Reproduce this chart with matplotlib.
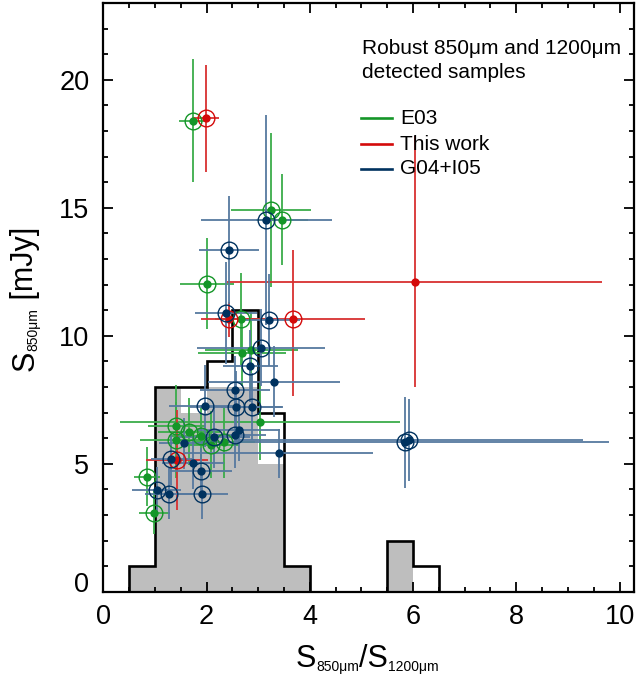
import numpy as np
import matplotlib
matplotlib.use('Agg')
import matplotlib.pyplot as plt
from matplotlib.lines import Line2D
from matplotlib.transforms import ScaledTranslation

plt.rcParams['font.family'] = ['Liberation Sans', 'DejaVu Sans']

# ── histogram of S850/S1200 ratio ──
bin_edges = [0.5, 1.0, 1.5, 2.0, 2.5, 3.0, 3.5, 4.0, 4.5, 5.0, 5.5, 6.0, 6.5]
counts_all = [1, 8, 8, 9, 11, 7, 1, 0, 0, 0, 2, 1]
counts_robust = [1, 8, 7, 8, 8, 5, 1, 0, 0, 0, 2, 0]

# ── E03 ──
e03_x = [1.74, 3.25, 3.46, 2.01, 2.66, 2.68, 2.87, 3.04, 1.41, 1.66, 1.41, 1.90, 2.08, 2.34, 0.85, 0.99]
e03_y = [18.4, 14.92, 14.53, 12.04, 10.66, 9.34, 9.44, 6.65, 6.47, 6.26, 5.93, 6.08, 5.75, 5.84, 4.49, 3.09]
e03_xerr = [0.27, 0.78, 0.5, 0.53, 0.5, 0.85, 0.9, 2.71, 0.55, 0.6, 0.7, 0.6, 0.55, 0.6, 0.25, 0.3]
e03_yerr = [2.4, 3.0, 1.78, 1.77, 1.8, 1.3, 1.5, 1.5, 1.6, 1.3, 1.5, 1.2, 1.3, 1.4, 1.15, 0.85]
e03_robust = [1, 1, 1, 1, 1, 0, 0, 0, 1, 1, 1, 1, 1, 1, 1, 1]

# ── This work ──
tw_x = [1.99, 2.43, 3.68, 6.03, 1.43]
tw_y = [18.5, 10.64, 10.64, 12.1, 5.16]
tw_xerr = [0.25, 0.53, 1.38, 3.63, 0.6]
tw_yerr_lo = [2.1, 0.7, 3.0, 4.1, 1.95]
tw_yerr_hi = [2.1, 0.7, 2.7, 5.7, 1.95]
tw_robust = [1, 1, 1, 0, 1]

# ── G04+I05 ──
g04_x = [3.16, 2.44, 2.37, 3.21, 3.06, 2.85, 3.30, 2.55, 1.97, 2.57, 2.88, 2.63,
         2.55, 2.15, 1.57, 3.40, 1.32, 1.74, 1.90, 1.03, 1.28, 1.92, 5.84, 5.93]
g04_y = [14.53, 13.36, 10.9, 10.61, 9.53, 8.82, 8.21, 7.9, 7.25, 7.21, 7.23, 6.32,
         6.12, 6.03, 5.80, 5.41, 5.17, 5.02, 4.72, 3.97, 3.83, 3.83, 5.84, 5.93]
g04_xerr = [1.26, 0.58, 0.6, 0.6, 1.24, 0.53, 1.28, 0.68, 0.7, 0.89, 0.6, 0.8,
            0.6, 0.7, 0.5, 1.82, 0.4, 0.6, 0.6, 0.48, 0.47, 0.5, 3.95, 3.37]
g04_yerr = [4.1, 2.1, 2.0, 1.8, 1.5, 1.4, 1.4, 1.3, 1.6, 1.4, 1.3, 1.2,
            1.3, 1.2, 1.0, 0.95, 1.0, 1.0, 0.9, 0.9, 1.0, 1.0, 1.78, 1.6]
g04_robust = [1, 1, 1, 1, 1, 1, 0, 1, 1, 1, 1, 0, 1, 1, 0, 0, 1, 0, 1, 1, 1, 1, 1, 1]

verde = '#149628'
vermelho = '#d40a0a'
azul = '#00325f'

fig = plt.figure(figsize=(6.38, 6.77), dpi=100)
ax = fig.add_axes([0.162, 0.126, 0.8317, 0.8694])

ax.stairs(counts_robust, bin_edges, fill=True, color='#bebebe', zorder=1)
ax.stairs(counts_all, bin_edges, color='black', lw=1.9, zorder=1.5)

series = [
    (e03_x, e03_y, e03_xerr, e03_yerr, e03_robust, verde, '#3aac4a'),
    (tw_x, tw_y, tw_xerr, [tw_yerr_lo, tw_yerr_hi], tw_robust, vermelho, '#d83030'),
    (g04_x, g04_y, g04_xerr, g04_yerr, g04_robust, azul, '#56799f'),
]
for x, y, xe, ye, rob, cor, cor_err in series:
    ax.errorbar(x, y, xerr=xe, yerr=ye, fmt='none', ecolor=cor_err,
                elinewidth=1.3, capsize=0, zorder=2)
    ax.plot(x, y, 'o', color=cor, ms=6, mec='none', zorder=4)
    xr = [a for a, r in zip(x, rob) if r]
    yr = [b for b, r in zip(y, rob) if r]
    ax.plot(xr, yr, 'o', mfc='none', mec=cor, ms=12, mew=1.0, zorder=4)

ax.set_xlim(0, 10.28)
ax.set_ylim(0, 23)
ax.set_xticks([0, 2, 4, 6, 8, 10])
ax.set_xticks(np.arange(0, 10.3, 0.5), minor=True)
ax.set_yticks([0, 5, 10, 15, 20])
ax.set_yticks(np.arange(0, 23, 1), minor=True)
ax.tick_params(which='both', direction='in', top=True, right=True, width=1.3)
ax.tick_params(which='major', length=7.5, labelsize=19.5)
ax.tick_params(which='minor', length=3.5)
ax.tick_params(axis='x', pad=9)
ax.tick_params(axis='y', pad=10)
for s in ax.spines.values():
    s.set_linewidth(1.6)

# o "0" do eixo y fica um pouco acima da linha, como no original
lbl0 = ax.yaxis.get_major_ticks()[0].label1
lbl0.set_transform(lbl0.get_transform() + ScaledTranslation(0, 0.1, fig.dpi_scale_trans))

# rótulos dos eixos: S grande com subscritos pequenos (estilo IDL)
renderer = fig.canvas.get_renderer()


def rotulo(partes, x0, y0, vertical=False):
    pos = 0.0
    for txt, tam, desl in partes:
        if vertical:
            t = fig.text(x0 + desl, y0 + pos, txt, fontsize=tam, rotation=90,
                         rotation_mode='anchor', ha='left', va='baseline', transform=None)
            pos += t.get_window_extent(renderer).height
        else:
            t = fig.text(x0 + pos, y0 - desl, txt, fontsize=tam,
                         ha='left', va='baseline', transform=None)
            pos += t.get_window_extent(renderer).width


rotulo([('S', 22, 0), ('850μm', 10, 4), ('/S', 22, 0), ('1200μm', 10, 4)], 296, 677 - 666.7)
rotulo([('S', 22, 0), ('850μm', 10, 4), (' [mJy]', 22, 0)], 33.5, 677 - 371, vertical=True)

# legenda manual
fig.text(362 / 638, 1 - 48 / 677, 'Robust 850μm and 1200μm', fontsize=15, va='center', ha='left')
fig.text(362 / 638, 1 - 72 / 677, 'detected samples', fontsize=15, va='center', ha='left')
for nome, cor, py in [('E03', verde, 118), ('This work', vermelho, 144), ('G04+I05', azul, 169)]:
    fig.add_artist(Line2D([361 / 638, 392 / 638], [1 - py / 677] * 2, color=cor, lw=1.9))
    fig.text(400 / 638, 1 - py / 677, nome, fontsize=15, va='center', ha='left')

plt.savefig('out.png', dpi=100)
